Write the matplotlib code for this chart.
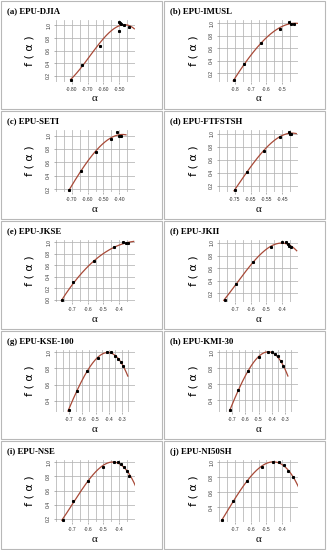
import numpy as np
import matplotlib.pyplot as plt
from matplotlib.patches import Rectangle

# multifractal spectra
titles = ['(a) EPU-DJIA', '(b) EPU-IMUSL', '(c) EPU-SETI', '(d) EPU-FTFSTSH',
          '(e) EPU-JKSE', '(f) EPU-JKII', '(g) EPU-KSE-100', '(h) EPU-KMI-30',
          '(i) EPU-NSE', '(j) EPU-NI50SH']

alpha_a = [-0.803, -0.737, -0.624, -0.500, -0.500, -0.495, -0.490, -0.468, -0.439]
f_a = [0.14, 0.38, 0.68, 0.91, 1.05, 1.04, 1.03, 1.01, 0.98]
alpha_b = [-0.805, -0.741, -0.636, -0.516, -0.457, -0.443, -0.428]
f_b = [0.10, 0.345, 0.68, 0.915, 1.015, 0.995, 0.985]
alpha_c = [-0.715, -0.644, -0.548, -0.455, -0.412, -0.400, -0.390]
f_c = [0.19, 0.475, 0.76, 0.955, 1.05, 1.00, 1.00]
alpha_d = [-0.750, -0.672, -0.567, -0.467, -0.410, -0.400, -0.395]
f_d = [0.137, 0.416, 0.737, 0.947, 1.02, 1.00, 1.00]
alpha_e = [-0.761, -0.690, -0.557, -0.434, -0.373, -0.358, -0.345]
f_e = [0.0, 0.30, 0.67, 0.91, 1.00, 0.99, 0.98]
alpha_f = [-0.765, -0.694, -0.583, -0.470, -0.400, -0.373, -0.362, -0.354, -0.345]
f_f = [0.10, 0.35, 0.695, 0.93, 1.01, 1.01, 0.99, 0.955, 0.93]
alpha_g = [-0.704, -0.643, -0.564, -0.479, -0.410, -0.385, -0.351, -0.326, -0.307, -0.291]
f_g = [0.29, 0.52, 0.77, 0.93, 1.00, 1.00, 0.96, 0.92, 0.88, 0.83]
alpha_h = [-0.715, -0.655, -0.576, -0.498, -0.430, -0.400, -0.377, -0.354, -0.332, -0.313]
f_h = [0.28, 0.53, 0.77, 0.945, 1.00, 1.00, 0.98, 0.95, 0.89, 0.83]
alpha_i = [-0.758, -0.690, -0.596, -0.500, -0.433, -0.410, -0.390, -0.370, -0.350, -0.335]
f_i = [0.19, 0.45, 0.735, 0.94, 1.00, 1.00, 0.98, 0.94, 0.88, 0.81]
alpha_j = [-0.780, -0.711, -0.624, -0.529, -0.456, -0.418, -0.391, -0.362, -0.329]
f_j = [0.235, 0.48, 0.75, 0.94, 1.00, 1.00, 0.97, 0.88, 0.80]

alphas = [alpha_a, alpha_b, alpha_c, alpha_d, alpha_e, alpha_f, alpha_g, alpha_h, alpha_i, alpha_j]
fs = [f_a, f_b, f_c, f_d, f_e, f_f, f_g, f_h, f_i, f_j]

xticks = [[-0.80, -0.70, -0.60, -0.50], [-0.8, -0.7, -0.6, -0.5],
          [-0.70, -0.60, -0.50, -0.40], [-0.75, -0.65, -0.55, -0.45],
          [-0.7, -0.6, -0.5, -0.4], [-0.7, -0.6, -0.5, -0.4],
          [-0.7, -0.6, -0.5, -0.4, -0.3], [-0.7, -0.6, -0.5, -0.4, -0.3],
          [-0.7, -0.6, -0.5, -0.4], [-0.7, -0.6, -0.5, -0.4]]
xfmt = ['%.2f', '%.1f', '%.2f', '%.2f', '%.1f', '%.1f', '%.1f', '%.1f', '%.1f', '%.1f']
yticks = [[0.2, 0.4, 0.6, 0.8, 1.0]] * 4 + [[0.0, 0.2, 0.4, 0.6, 0.8, 1.0], [0.2, 0.4, 0.6, 0.8, 1.0],
          [0.4, 0.6, 0.8, 1.0], [0.4, 0.6, 0.8, 1.0], [0.2, 0.4, 0.6, 0.8, 1.0], [0.4, 0.6, 0.8, 1.0]]

W, H = 327, 550
fig = plt.figure(figsize=(W / 100, H / 100), dpi=100)

for k in range(10):
    row, col = k // 2, k % 2
    px = 0 if col == 0 else 163
    py = row * 110
    # panel frame
    fig.patches.append(Rectangle(((px + 1) / W, 1 - (py + 109) / H), 161 / W, 108 / H,
                                 transform=fig.transFigure, fill=False,
                                 edgecolor='#b8b8b8', linewidth=0.8))
    fig.text((px + 7) / W, 1 - (py + 11.5) / H, titles[k], fontsize=6.3,
             fontweight='bold', family='Liberation Serif', va='center', ha='left')

    ax = fig.add_axes([(px + 56) / W, 1 - (py + 82) / H, 79 / W, 62 / H])
    x = np.array(alphas[k])
    y = np.array(fs[k])
    xr = x.max() - x.min()
    yr = y.max() - y.min()
    x0, x1 = x.min() - 0.04 * xr, x.max() + 0.04 * xr
    ax.set_xlim(x0, x1)
    ax.set_ylim(y.min() - 0.04 * yr, y.max() + 0.04 * yr)

    # smooth fitted spectrum
    c = np.polyfit(x, y, 3)
    xs = np.linspace(x.min() - 0.005, x1 + 0.02, 200)
    ax.plot(xs, np.polyval(c, xs), color='#a84a38', lw=0.9, zorder=2)
    ax.plot(x, y, 's', color='black', ms=1.2, zorder=3)

    xt = xticks[k]
    step = xt[1] - xt[0]
    minor = np.arange(xt[0] - step, xt[-1] + step + 1e-9, step / 2)
    ax.set_xticks(minor, minor=True)
    ax.set_xticks(xt)
    ax.set_xticklabels([xfmt[k] % v for v in xt])
    ax.set_yticks(yticks[k])
    ax.set_yticklabels(['%.1f' % v for v in yticks[k]], rotation=90, va='center')
    ax.grid(True, which='both', axis='x', color='#b4b4b4', lw=0.55)
    ax.grid(True, which='major', axis='y', color='#b4b4b4', lw=0.55)
    ax.set_axisbelow(True)
    ax.tick_params(which='minor', length=0)
    ax.tick_params(which='major', length=1.5, width=0.4, color='#777777', pad=2,
                   labelsize=3.6, labelcolor='#333333')
    for lab in ax.get_xticklabels() + ax.get_yticklabels():
        lab.set_family('Liberation Sans')
    for s in ax.spines.values():
        s.set_visible(False)

    fig.text((px + 30) / W, 1 - (py + 51) / H, 'f ( α )', rotation=90, fontsize=8,
             family='DejaVu Sans', va='center', ha='center')
    fig.text((px + 95) / W, 1 - (py + 99) / H, 'α', fontsize=8,
             family='Liberation Serif', va='center', ha='center')

fig.savefig('out.png', dpi=100)
